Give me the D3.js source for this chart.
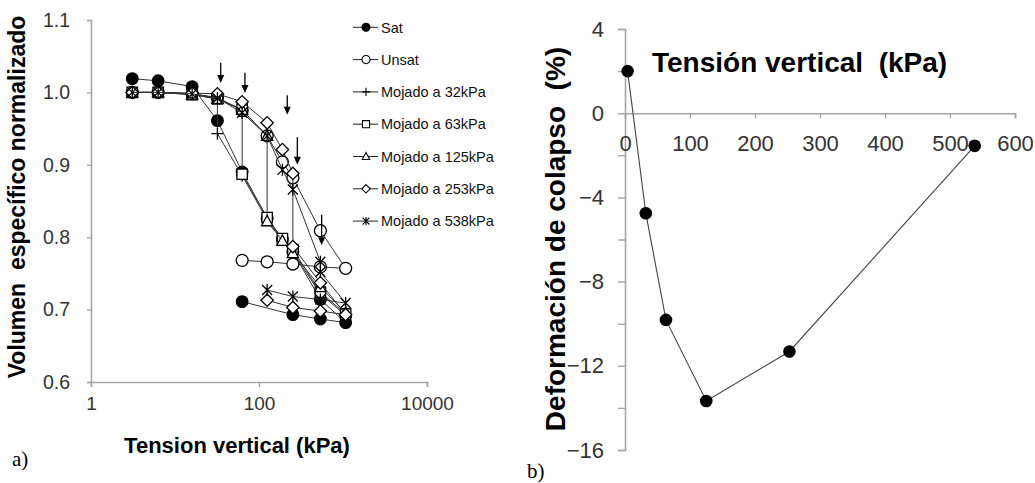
<!DOCTYPE html>
<html><head><meta charset="utf-8">
<script src="https://cdn.jsdelivr.net/npm/d3@7"></script>
<style>body{margin:0;background:#fff}svg{display:block}</style>
</head><body>
<svg id="c" width="1035" height="483"></svg>
<script>
// ---------- DATA (left chart) ----------
const seriesNames = ["Sat","Unsat","Mojado a 32kPa","Mojado a 63kPa","Mojado a 125kPa","Mojado a 253kPa","Mojado a 538kPa"];
const satP = [3.1, 6.3, 16, 32, 63, 125, 190, 253, 538, 1075, 538, 253, 63];
const satV = [1.019, 1.016, 1.008, 0.961, 0.890, 0.826, 0.797, 0.780, 0.714, 0.682, 0.687, 0.693, 0.711];
const unsatP = [3.1, 6.3, 16, 32, 63, 125, 190, 253, 538, 1075, 538, 253, 125, 63];
const unsatV = [1.0, 1.0, 0.998, 0.993, 0.975, 0.940, 0.904, 0.882, 0.809, 0.757, 0.759, 0.763, 0.766, 0.768];
const m32P = [3.1, 6.3, 16, 32, 32, 63, 125, 190, 253, 538, 1075];
const m32V = [1.0, 1.0, 0.998, 0.992, 0.943, 0.885, 0.824, 0.796, 0.779, 0.722, 0.692];
const m63P = [3.1, 6.3, 16, 32, 63, 63, 125, 190, 253, 538, 1075];
const m63V = [1.0, 1.0, 0.997, 0.991, 0.977, 0.887, 0.827, 0.798, 0.783, 0.724, 0.694];
const m125P = [3.1, 6.3, 16, 32, 63, 125, 125, 190, 253, 538, 1075];
const m125V = [1.0, 1.0, 0.997, 0.991, 0.976, 0.940, 0.822, 0.795, 0.778, 0.731, 0.696];
const m253P = [3.1, 6.3, 16, 32, 63, 125, 190, 253, 253, 538, 1075, 538, 253, 125];
const m253V = [1.0, 1.0, 0.999, 0.998, 0.987, 0.958, 0.921, 0.888, 0.787, 0.737, 0.693, 0.698, 0.703, 0.713];
const m538P = [3.1, 6.3, 16, 32, 63, 125, 190, 253, 538, 538, 1075, 538, 253, 125];
const m538V = [1.0, 1.0, 0.998, 0.992, 0.972, 0.940, 0.893, 0.866, 0.766, 0.752, 0.709, 0.714, 0.718, 0.727];
const xTicksLeft = [1, 100, 10000];
const yTicksLeft = [0.6, 0.7, 0.8, 0.9, 1.0, 1.1];
// wetting arrows (annotation): pressure, top value, tip value
const arrowP = [35, 68, 217, 286, 557];
const arrowTop = [1.041, 1.027, 0.996, 0.938, 0.831];
const arrowTip = [1.013, 0.999, 0.969, 0.900, 0.789];

// ---------- DATA (right chart) ----------
const collapseP = [4, 32, 63, 125, 253, 538];
const collapseV = [2.0, -4.75, -9.82, -13.67, -11.32, -1.55];
const xTicksRight = [0, 100, 200, 300, 400, 500, 600];
const yTicksRight = [4, 2, 0, -2, -4, -6, -8, -10, -12, -14, -16];

// ---------- helpers ----------
const svg = d3.select("#c");
const FONT = "'Liberation Sans', Arial, sans-serif";
const AX = "#a6a6a6", TXT = "#333", LINE = "#333";

function markerPath(type, s) {
  switch (type) {
    case "circle": return d3.symbol(d3.symbolCircle, Math.PI * s * s)();
    case "square": return `M${-s},${-s}H${s}V${s}H${-s}Z`;
    case "triangle": return `M0,${-s * 1.05}L${s},${s * 0.8}L${-s},${s * 0.8}Z`;
    case "diamond": return `M0,${-s}L${s},0L0,${s}L${-s},0Z`;
    case "plus": return `M${-s},0H${s}M0,${-s}V${s}`;
    case "star": return `M${-s},${-s}L${s},${s}M${-s},${s}L${s},${-s}M0,${-s * 1.2}V${s * 1.2}`;
  }
}
const styles = [
  {type: "circle", size: 5.8, fill: "#000"},
  {type: "circle", size: 6, fill: "#fff"},
  {type: "plus", size: 6, fill: "none"},
  {type: "square", size: 5.2, fill: "#fff"},
  {type: "triangle", size: 5.6, fill: "#fff"},
  {type: "diamond", size: 6.2, fill: "#fff"},
  {type: "star", size: 5, fill: "none"}
];
const series = [
  [satP, satV], [unsatP, unsatV], [m32P, m32V], [m63P, m63V],
  [m125P, m125V], [m253P, m253V], [m538P, m538V]
];

// ---------- LEFT CHART ----------
const xL = d3.scaleLog().domain([1, 10000]).range([91, 427]);
const yL = d3.scaleLinear().domain([0.6, 1.1]).range([382, 20]);

const gL = svg.append("g");
gL.append("g").attr("transform", `translate(0,${yL(0.6)})`)
  .call(d3.axisBottom(xL).tickValues(xTicksLeft).tickFormat(d3.format("d")).tickSize(5).tickPadding(10))
  .call(g => { g.select(".domain").attr("stroke", AX).attr("stroke-width", 1.6);
    g.selectAll(".tick line").attr("stroke", AX).attr("stroke-width", 1.4);
    g.selectAll("text").attr("fill", TXT).attr("font-size", 19).attr("font-family", FONT); });
gL.append("g").attr("transform", `translate(${xL(1)},0)`)
  .call(d3.axisLeft(yL).tickValues(yTicksLeft).tickFormat(d3.format(".1f")).tickSize(4).tickPadding(17))
  .call(g => { g.select(".domain").attr("stroke", AX).attr("stroke-width", 1.6);
    g.selectAll(".tick line").attr("stroke", AX).attr("stroke-width", 1.4);
    g.selectAll("text").attr("fill", TXT).attr("font-size", 19.5).attr("font-family", FONT); });

const lineL = d3.line().x(d => xL(d[0])).y(d => yL(d[1]));
series.forEach((s, i) => {
  const pts = s[0].map((p, k) => [p, s[1][k]]);
  const st = styles[i];
  const g = gL.append("g");
  g.append("path").attr("d", lineL(pts)).attr("fill", "none").attr("stroke", LINE).attr("stroke-width", 1);
  g.selectAll("path.m").data(pts).join("path").attr("class", "m")
    .attr("transform", d => `translate(${xL(d[0])},${yL(d[1])})`)
    .attr("d", markerPath(st.type, st.size))
    .attr("fill", st.fill).attr("stroke", "#000").attr("stroke-width", 1.3);
});

// arrows
const gA = gL.append("g");
arrowP.forEach((p, i) => {
  const x = xL(p), y1 = yL(arrowTop[i]), y2 = yL(arrowTip[i]);
  gA.append("line").attr("x1", x).attr("x2", x).attr("y1", y1).attr("y2", y2 - 6)
    .attr("stroke", "#000").attr("stroke-width", 1.3);
  gA.append("path").attr("d", `M${x - 3.5},${y2 - 8}L${x + 3.5},${y2 - 8}L${x},${y2}Z`).attr("fill", "#000");
});

// legend
const gLeg = svg.append("g");
seriesNames.forEach((n, i) => {
  const y = 27.3 + i * 32.3;
  const st = styles[i];
  gLeg.append("line").attr("x1", 353).attr("x2", 378).attr("y1", y).attr("y2", y).attr("stroke", "#222").attr("stroke-width", 1);
  gLeg.append("path").attr("transform", `translate(366,${y})`).attr("d", markerPath(st.type, st.size * 0.68))
    .attr("fill", st.fill).attr("stroke", "#000").attr("stroke-width", 1.1);
  gLeg.append("text").attr("x", 381).attr("y", y).attr("dy", "0.36em").attr("font-size", 14.5)
    .attr("font-family", FONT).attr("fill", "#111").text(n);
});

// titles left
svg.append("text").attr("transform", "translate(17,197) rotate(-90)").attr("text-anchor", "middle").attr("dy", "0.35em")
  .attr("font-family", FONT).attr("font-weight", "bold").attr("font-size", 23).attr("fill", "#000")
  .style("white-space", "pre").text("Volumen  específico normalizado");
svg.append("text").attr("x", 237).attr("y", 453).attr("text-anchor", "middle")
  .attr("font-family", FONT).attr("font-weight", "bold").attr("font-size", 22).attr("fill", "#000")
  .text("Tension vertical (kPa)");
svg.append("text").attr("x", 12).attr("y", 466).attr("font-family", "'Liberation Serif', 'Times New Roman', serif")
  .attr("font-size", 21).attr("fill", "#000").text("a)");

// ---------- RIGHT CHART ----------
const xR = d3.scaleLinear().domain([0, 600]).range([625, 1015]);
const yR = d3.scaleLinear().domain([-16, 4]).range([450, 29]);

const gR = svg.append("g");
gR.append("g").attr("transform", `translate(${xR(0)},0)`)
  .call(d3.axisLeft(yR).tickValues(yTicksRight).tickFormat(d => d % 4 === 0 ? d3.format("d")(d) : "").tickSize(7).tickPadding(14))
  .call(g => { g.select(".domain").attr("stroke", AX).attr("stroke-width", 1.6);
    g.selectAll(".tick line").attr("stroke", AX).attr("stroke-width", 1.4);
    g.selectAll("text").attr("fill", TXT).attr("font-size", 22).attr("font-family", FONT); });
gR.append("g").attr("transform", `translate(0,${yR(0)})`)
  .call(d3.axisBottom(xR).tickValues(xTicksRight).tickFormat(d3.format("d")).tickSize(5).tickPadding(17))
  .call(g => { g.select(".domain").attr("stroke", AX).attr("stroke-width", 1.6);
    g.selectAll(".tick line").attr("stroke", AX).attr("stroke-width", 1.4);
    g.selectAll("text").attr("fill", TXT).attr("font-size", 22).attr("font-family", FONT); });

const ptsR = collapseP.map((p, k) => [p, collapseV[k]]);
gR.append("path").attr("d", d3.line().x(d => xR(d[0])).y(d => yR(d[1]))(ptsR))
  .attr("fill", "none").attr("stroke", "#444").attr("stroke-width", 1.1);
gR.selectAll("circle.pt").data(ptsR).join("circle").attr("class", "pt")
  .attr("cx", d => xR(d[0])).attr("cy", d => yR(d[1])).attr("r", 6.3).attr("fill", "#000");

svg.append("text").attr("x", 652).attr("y", 72).attr("font-family", FONT).attr("font-weight", "bold")
  .attr("font-size", 28).attr("fill", "#000").style("white-space", "pre").text("Tensión vertical  (kPa)");
svg.append("text").attr("transform", "translate(555,239) rotate(-90)").attr("text-anchor", "middle").attr("dy", "0.35em")
  .attr("font-family", FONT).attr("font-weight", "bold").attr("font-size", 28).attr("fill", "#000")
  .style("white-space", "pre").text("Deformación de colapso  (%)");
svg.append("text").attr("x", 527).attr("y", 478).attr("font-family", "'Liberation Serif', 'Times New Roman', serif")
  .attr("font-size", 21).attr("fill", "#000").text("b)");
</script>
</body></html>
